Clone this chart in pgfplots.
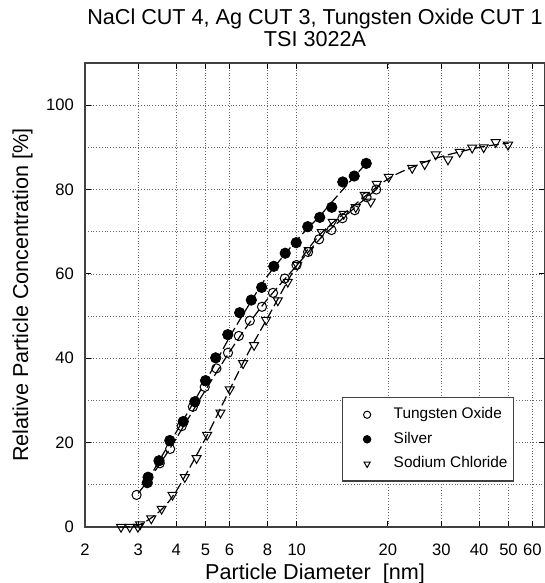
\documentclass[border=0pt]{standalone}
\usepackage{fontspec}
\setmainfont{Liberation Sans}
\usepackage{pgfplots}
\pgfplotsset{compat=1.18}

\begin{document}
\begin{tikzpicture}
% page = 545 x 583 px at 0.5pt per px, axis box at (0,0)-(230pt,232pt)
\useasboundingbox (-42.5pt,-28pt) rectangle (230pt,263.5pt);
\begin{axis}[
  scale only axis,
  width=230pt, height=232pt,
  xmode=log,
  xmin=2, xmax=66,
  ymin=0, ymax=110,
  xtick={2,3,4,5,6,8,10,20,30,40,50,60},
  xticklabels={2,3,4,5,6,8,10,20,30,40,50,60},
  xminorticks=false,
  ytick={0,20,...,100},
  minor ytick={10,30,...,110},
  xmajorgrids, ymajorgrids, yminorgrids,
  major grid style={densely dotted, black!60, line width=0.4pt},
  minor grid style={densely dotted, black!60, line width=0.4pt},
  tick align=inside,
  major tick length=3pt,
  minor tick length=0pt,
  every tick/.style={black, line width=0.5pt},
  axis line style={black!75, line width=0.7pt},
  /pgf/number format/assume math mode=true,
  tick label style={font=\fontsize{8.3}{10}\selectfont},
  xticklabel style={yshift=-5pt},
  yticklabel style={xshift=-2pt},
  title={NaCl CUT 4, Ag CUT 3, Tungsten Oxide CUT 1\\TSI 3022A},
  title style={align=center, font=\fontsize{10.8}{11}\selectfont, yshift=-1.5pt},
  xlabel={Particle Diameter\ \ [nm]},
  ylabel={Relative Particle Concentration [\%]},
  label style={font=\fontsize{10.8}{13}\selectfont},
  xlabel style={yshift=3pt},
  legend cell align=left,
  legend style={at={(rel axis cs:0.933,0.280)}, anchor=north east,
    draw=black!75, line width=0.6pt,
    font=\fontsize{7.7}{9}\selectfont, row sep=1.2pt,
    inner xsep=1pt, inner ysep=3pt},
  legend image code/.code={
    \path (0pt,0pt) (22pt,0pt);
    \draw[#1, mark size=1.8pt] plot coordinates {(11pt,0pt)};},
]
% dashed fit curves
\addplot[black, dashed, dash pattern=on 5pt off 2pt, line width=0.6pt, smooth, forget plot]
  coordinates {(3,8) (3.5,14.5) (4,21) (5,32.5) (6,41.5) (7,48.5) (8,54) (10,62) (12,68.5) (14,72.8) (16,76.5) (18.3,80)};
\addplot[black, dashed, dash pattern=on 5pt off 2pt, line width=0.6pt, smooth, forget plot]
  coordinates {(3.2,10.5) (3.5,15.5) (4,22.5) (5,34.5) (6,45) (7,53) (8,59.5) (10,68) (12,74) (14,79.5) (17,86.3)};
\addplot[black, dashed, dash pattern=on 5pt off 2pt, line width=0.6pt, smooth, forget plot]
  coordinates {(2.6,0) (3,0.4) (3.5,3.5) (4,8.5) (5,21) (6,32.5) (7,42) (8,49.5) (10,62) (12,69.5) (15,75.5) (20,82.5) (25,85.8) (30,87.8) (40,90) (50,91)};

% Tungsten Oxide
\addplot[only marks, mark=o, mark size=2.3pt, mark options={black, fill=white, line width=0.5pt}]
  coordinates {(2.96,7.6) (3.53,15.1) (3.82,18.5) (4.17,23.9) (4.54,28.5) (4.97,33.2)
  (5.43,37.6) (5.93,41.3) (6.44,45.3) (7.00,48.9) (7.68,52.2) (8.35,55.5) (9.13,58.9)
  (9.98,62.1) (10.90,65.2) (11.85,68.2) (13.02,70.4) (14.15,73.2) (15.54,75.1)
  (17.0,78.2) (18.3,80.0)};
\addlegendentry{Tungsten Oxide}

% Silver
\addplot[only marks, mark=*, mark size=2.6pt, mark options={black, fill=black}]
  coordinates {(3.21,10.5) (3.23,11.8) (3.51,15.7) (3.81,20.5) (4.22,25.0) (4.61,29.7)
  (5.00,34.7) (5.40,40.1) (5.92,45.6) (6.48,50.8) (7.08,53.8) (7.66,56.8) (8.40,61.8)
  (9.16,64.9) (9.96,67.4) (10.87,71.2) (11.91,73.4) (13.05,75.8) (14.19,81.8)
  (15.48,83.2) (16.96,86.2)};
\addlegendentry{Silver}

% Sodium Chloride
\addplot[only marks, mark=triangle, mark size=2.6pt, mark options={black, fill=white, rotate=180, line width=0.5pt}]
  coordinates {(2.63,0) (2.81,0) (2.99,0) (3.04,0.6) (3.31,2.0) (3.58,4.3) (3.89,7.6)
  (4.27,11.8) (4.67,16.3) (5.06,21.8) (5.60,27.1) (6.01,32.6) (6.65,38.8) (7.23,43.1)
  (7.92,49.1) (8.66,53.7) (9.34,58.1) (10.04,62.1) (10.95,65.6) (12.09,69.9)
  (13.15,72.3) (14.29,74.2) (15.66,75.8) (16.77,78.7) (17.55,77.1) (18.37,81.3)
  (20.12,83.0) (24.05,85.1) (26.45,86.0) (28.76,88.3) (31.57,87.1) (34.51,88.9)
  (37.95,89.9) (41.42,90.0) (45.38,91.2) (49.83,90.6)};
\addlegendentry{Sodium Chloride}
\end{axis}
\end{tikzpicture}
\end{document}
